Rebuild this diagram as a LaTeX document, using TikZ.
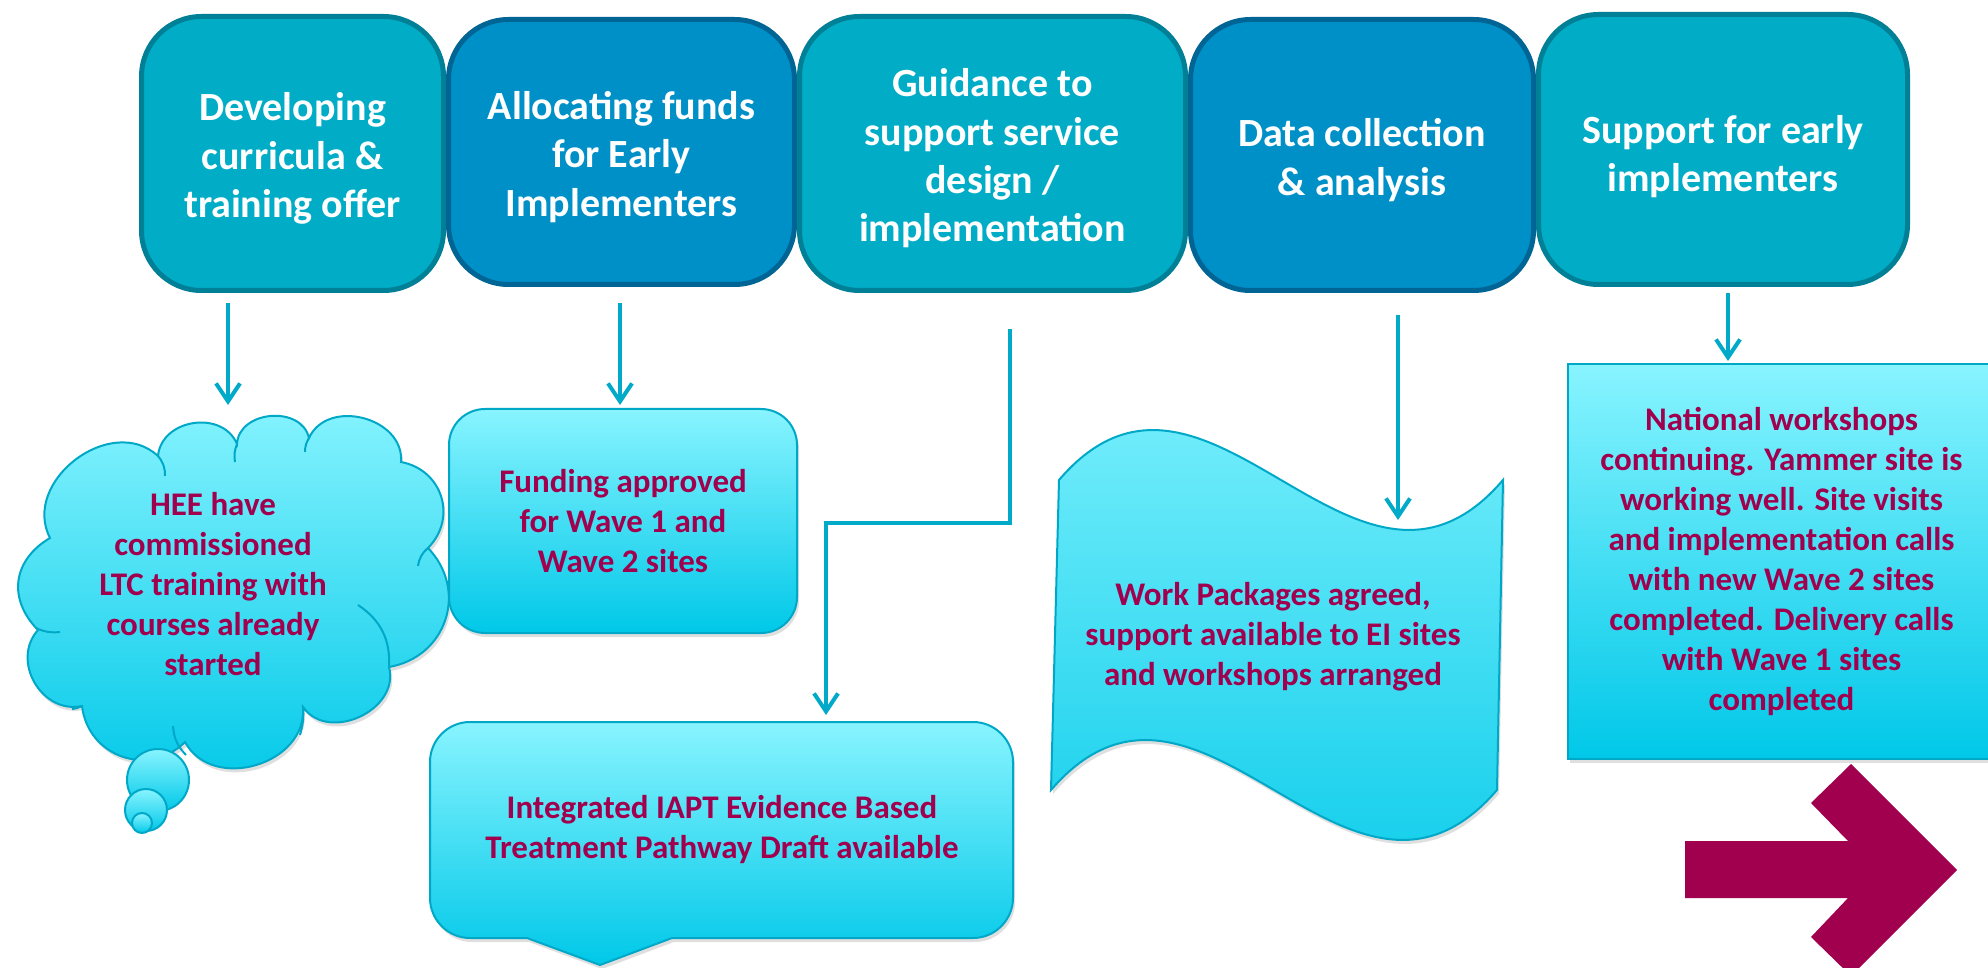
\documentclass[tikz,border=0pt]{standalone}
\usepackage{fontspec}
\setmainfont{Carlito}
\usetikzlibrary{arrows.meta,shadows}
\definecolor{tealA}{RGB}{0,172,198}
\definecolor{tealAb}{RGB}{0,128,150}
\definecolor{blueB}{RGB}{0,144,200}
\definecolor{blueBb}{RGB}{0,100,148}
\definecolor{cyanTop}{RGB}{136,244,255}
\definecolor{cyanBot}{RGB}{0,200,232}
\definecolor{cyanLine}{RGB}{0,168,200}
\definecolor{conncol}{RGB}{0,170,200}
\definecolor{plum}{RGB}{160,0,78}
\begin{document}
\begin{tikzpicture}[x=0.5pt,y=-0.5pt,
  topbox/.style={rounded corners=30pt, line width=2.5pt, inner sep=0pt},
  lightbox/.style={topbox, fill=tealA, draw=tealAb},
  darkbox/.style={topbox, fill=blueB, draw=blueBb},
  toptext/.style={text=white, align=center, inner sep=0pt,
    font=\bfseries\fontsize{20}{24.2}\selectfont},
  bubblefill/.style={top color=cyanTop, bottom color=cyanBot, draw=cyanLine, line width=1pt},
  bodytext/.style={text=plum, align=center, font=\bfseries\fontsize{16.5}{20}\selectfont, inner sep=0pt},
  conn/.style={draw=conncol, line width=2pt, -{Straight Barb[length=9pt,width=12pt]}},
  softshadow/.style={drop shadow={shadow xshift=1pt, shadow yshift=-2pt, opacity=0.25}},
  puff/.style={bend left=#1, looseness=1.2}
]
\useasboundingbox (0,0) rectangle (1988,968);
\fill[white] (0,0) rectangle (1988,968);

% top row
\node[lightbox, minimum width=151pt, minimum height=137pt] (b1) at (292.5,153.5) {};
\node[darkbox, minimum width=173pt, minimum height=132.5pt] (b2) at (621.5,152) {};
\node[lightbox, minimum width=193pt, minimum height=137pt] (b3) at (992.5,153.5) {};
\node[darkbox, minimum width=171.5pt, minimum height=135.5pt] (b4) at (1362,155) {};
\node[lightbox, minimum width=184.5pt, minimum height=135pt] (b5) at (1723,149.5) {};
\node[toptext] (t1) at ([yshift=-2.5pt]b1.center) {Developing\\curricula \&\\training offer};
\node[toptext] (t2) at ([yshift=-2.5pt]b2.center) {Allocating funds\\for Early\\Implementers};
\node[toptext] (t3) at ([yshift=-2.5pt]b3.center) {Guidance to\\support service\\design /\\implementation};
\node[toptext] (t4) at ([yshift=-2.5pt]b4.center) {Data collection\\\& analysis};
\node[toptext] (t5) at ([yshift=-3.5pt]b5.center) {Support for early\\implementers};

% cloud (thought bubble)
\path[bubblefill, softshadow] (50,538)
  to[puff=80] (158,456)
  to[puff=76] (237,444)
  to[puff=82] (309,438)
  to[puff=80] (401,462)
  to[puff=62] (428,548)
  to[puff=62] (389,667)
  to[puff=80] (303,707)
  to[puff=78] (185,742)
  to[puff=64] (82,706)
  to[puff=72] (38,630)
  to[puff=52] (50,538) -- cycle;
\draw[cyanLine, line width=1pt] (158,456) to[bend left=20] (165,476);
\draw[cyanLine, line width=1pt] (237,444) to[bend right=15] (235,462);
\draw[cyanLine, line width=1pt] (309,438) to[bend right=15] (305,452);
\draw[cyanLine, line width=1pt] (428,548) to[bend right=20] (418,566);
\draw[cyanLine, line width=1pt] (358,605) to[bend left=30] (389,667);
\draw[cyanLine, line width=1pt] (303,707) to[bend left=10] (300,735);
\draw[cyanLine, line width=1pt] (173,726) to[bend right=20] (186,755);
\draw[cyanLine, line width=1pt] (82,706) to[bend left=10] (72,709);
\draw[cyanLine, line width=1pt] (60,632) to[bend left=15] (36,628);
\draw[bubblefill] (158,780) circle[radius=31];
\draw[bubblefill] (146,810) circle[radius=21];
\draw[bubblefill] (142,823) circle[radius=10];
\node[bodytext] (cloudtxt) at (213,584)
  {HEE have\\commissioned\\LTC training with\\courses already\\started};

% funding box
\node[bubblefill, softshadow, rounded corners=18pt, minimum width=174pt, minimum height=112pt,
  bodytext] (fund) at (623,521) {Funding approved\\for Wave 1 and\\Wave 2 sites};

% IAPT callout
\path[bubblefill, softshadow] (527,938) -- (600,965) -- (672,938) -- (973,938)
  .. controls (995,938) and (1013,920) .. (1013,898) -- (1013,762)
  .. controls (1013,740) and (995,722) .. (973,722) -- (470,722)
  .. controls (448,722) and (430,740) .. (430,762) -- (430,898)
  .. controls (430,920) and (448,938) .. (470,938) -- cycle;
\node[bodytext] (iapt) at (722,830) {Integrated IAPT Evidence Based\\Treatment Pathway Draft available};

% wave
\path[bubblefill, softshadow] (1059,480) .. controls (1207,307) and (1355,653) .. (1503,480)
  -- (1497,790) .. controls (1348,963) and (1200,617) .. (1051,790) -- cycle;
\node[bodytext] (wave) at (1273,637) {Work Packages agreed,\\support available to EI sites\\and workshops arranged};

% national box
\node[bubblefill, softshadow, minimum width=213.5pt, minimum height=197.5pt, bodytext]
  (nat) at (1781.5,561.5) {National workshops\\continuing. Yammer site is\\working well. Site visits\\and implementation calls\\with new Wave 2 sites\\completed. Delivery calls\\with Wave 1 sites\\completed};

% big arrow
\fill[plum] (1685,841) -- (1848,841) -- (1811,803) -- (1851,764) -- (1957,870)
  -- (1851,976) -- (1811,937) -- (1848,898) -- (1685,898) -- cycle;

% connectors
\coordinate (c1a) at (228,303);  \coordinate (c1b) at (228,405);
\coordinate (c2a) at (620,303);  \coordinate (c2b) at (620,405);
\coordinate (c3a) at (1010,329); \coordinate (c3k) at (1010,523);
\coordinate (c3l) at (826,523);  \coordinate (c3b) at (826,715);
\coordinate (c4a) at (1398,315); \coordinate (c4b) at (1398,520);
\coordinate (c5a) at (1728,293); \coordinate (c5b) at (1728,361);
\draw[conn] (c1a) -- (c1b);
\draw[conn] (c2a) -- (c2b);
\draw[conn] (c3a) -- (c3k) -- (c3l) -- (c3b);
\draw[conn] (c4a) -- (c4b);
\draw[conn] (c5a) -- (c5b);
\end{tikzpicture}
\end{document}
